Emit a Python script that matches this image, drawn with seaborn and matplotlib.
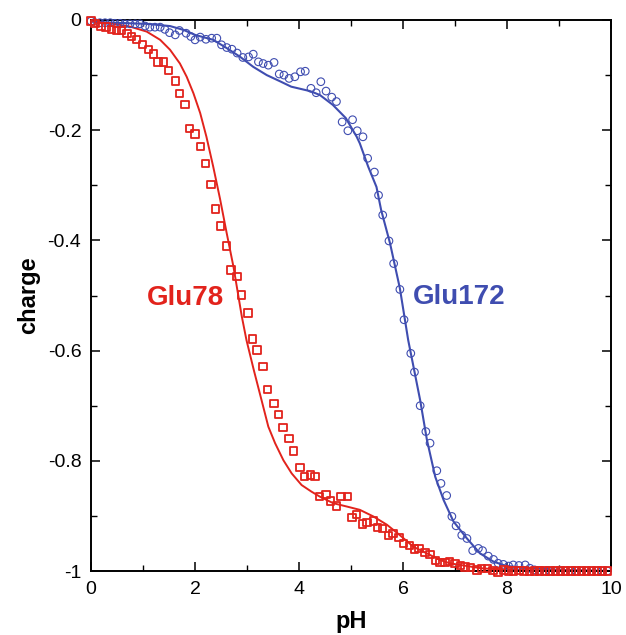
import matplotlib
matplotlib.use("Agg")
import matplotlib.pyplot as plt
import seaborn as sns
import pandas as pd
from matplotlib.ticker import MultipleLocator, FixedLocator

# ---------------- data ----------------
glu78_ph = [0.00, 0.08, 0.19, 0.29, 0.40, 0.49, 0.59, 0.69, 0.78, 0.88, 0.99,
            1.10, 1.20, 1.29, 1.40, 1.49, 1.62, 1.70, 1.81, 1.89, 2.00, 2.11,
            2.20, 2.31, 2.40, 2.49, 2.61, 2.69, 2.81, 2.90, 3.02, 3.11, 3.19,
            3.31, 3.40, 3.52, 3.61, 3.69, 3.81, 3.90, 4.02, 4.10, 4.22, 4.31,
            4.40, 4.52, 4.60, 4.72, 4.81, 4.93, 5.02, 5.11, 5.22, 5.31, 5.43,
            5.51, 5.60, 5.72, 5.81, 5.92, 6.01, 6.12, 6.22, 6.31, 6.42, 6.52,
            6.62, 6.71, 6.81, 6.90, 7.00, 7.10, 7.19, 7.30, 7.42, 7.51, 7.62,
            7.73, 7.83, 7.94, 8.03, 8.13, 8.23, 8.33, 8.43, 8.53, 8.63, 8.73,
            8.83, 8.93, 9.03, 9.13, 9.23, 9.33, 9.43, 9.53, 9.63, 9.73, 9.83,
            9.93]
glu78_q = [-0.002, -0.006, -0.012, -0.013, -0.017, -0.019, -0.019, -0.025,
           -0.030, -0.035, -0.045, -0.053, -0.062, -0.076, -0.076, -0.092,
           -0.111, -0.133, -0.153, -0.197, -0.207, -0.230, -0.261, -0.299,
           -0.343, -0.374, -0.410, -0.454, -0.466, -0.499, -0.532, -0.579,
           -0.599, -0.629, -0.671, -0.696, -0.716, -0.740, -0.760, -0.782,
           -0.812, -0.829, -0.826, -0.829, -0.865, -0.861, -0.873, -0.882,
           -0.865, -0.865, -0.903, -0.897, -0.915, -0.912, -0.909, -0.921,
           -0.923, -0.935, -0.932, -0.939, -0.950, -0.954, -0.960, -0.959,
           -0.966, -0.970, -0.981, -0.984, -0.985, -0.983, -0.986, -0.990,
           -0.993, -0.994, -0.998, -0.995, -0.995, -0.999, -1.002, -0.998,
           -1.000, -1.000, -0.999, -1.000, -1.001, -1.000, -1.000, -1.000,
           -1.000, -1.000, -1.000, -1.000, -1.000, -1.000, -1.000, -1.000,
           -1.000, -1.000, -1.000, -1.000]

glu172_ph = [0.00, 0.08, 0.17, 0.27, 0.37, 0.46, 0.56, 0.65, 0.75, 0.85, 0.94,
             1.04, 1.13, 1.23, 1.33, 1.42, 1.51, 1.62, 1.70, 1.83, 1.92, 2.00,
             2.10, 2.21, 2.32, 2.42, 2.51, 2.61, 2.71, 2.81, 2.92, 3.03, 3.12,
             3.22, 3.31, 3.41, 3.52, 3.62, 3.71, 3.81, 3.92, 4.03, 4.12, 4.23,
             4.33, 4.42, 4.52, 4.63, 4.72, 4.83, 4.94, 5.03, 5.12, 5.23, 5.32,
             5.45, 5.53, 5.61, 5.73, 5.82, 5.94, 6.02, 6.15, 6.22, 6.33, 6.44,
             6.52, 6.65, 6.73, 6.84, 6.94, 7.02, 7.13, 7.23, 7.34, 7.45, 7.53,
             7.64, 7.74, 7.83, 7.93, 8.03, 8.12, 8.23, 8.35, 8.44, 8.53, 8.63,
             8.73, 8.83, 8.93, 9.03, 9.13, 9.23, 9.33, 9.43, 9.53, 9.63, 9.73,
             9.83, 9.93]
glu172_q = [-0.002, -0.005, -0.005, -0.005, -0.005, -0.006, -0.006, -0.007,
            -0.007, -0.007, -0.007, -0.011, -0.013, -0.013, -0.013, -0.017,
            -0.023, -0.027, -0.019, -0.024, -0.030, -0.036, -0.031, -0.035,
            -0.033, -0.033, -0.045, -0.050, -0.053, -0.060, -0.068, -0.067,
            -0.062, -0.076, -0.079, -0.082, -0.077, -0.098, -0.100, -0.106,
            -0.103, -0.094, -0.093, -0.124, -0.132, -0.112, -0.129, -0.140,
            -0.148, -0.185, -0.201, -0.181, -0.201, -0.212, -0.251, -0.276,
            -0.318, -0.354, -0.401, -0.442, -0.489, -0.544, -0.605, -0.639,
            -0.700, -0.747, -0.768, -0.818, -0.841, -0.863, -0.901, -0.918,
            -0.935, -0.941, -0.963, -0.959, -0.963, -0.973, -0.979, -0.986,
            -0.988, -0.991, -0.989, -0.990, -0.989, -0.995, -0.998, -0.999,
            -1.000, -1.000, -1.000, -1.000, -1.000, -1.000, -1.000, -1.000,
            -1.000, -1.000, -1.000, -1.000, -1.000]

fit78_ph = [0.00, 0.43, 0.75, 1.07, 1.33, 1.52, 1.71, 1.84, 1.97, 2.10, 2.22,
            2.35, 2.48, 2.61, 2.74, 2.90, 2.99, 3.13, 3.28, 3.41, 3.54, 3.70,
            3.86, 4.05, 4.24, 4.40, 4.66, 4.92, 5.17, 5.43, 5.69, 5.94, 6.20,
            6.46, 6.71, 6.90, 7.50, 8.00, 10.00]
fit78_q = [-0.002, -0.007, -0.012, -0.021, -0.036, -0.054, -0.079, -0.103,
           -0.133, -0.169, -0.212, -0.266, -0.324, -0.387, -0.448, -0.538,
           -0.581, -0.635, -0.690, -0.738, -0.768, -0.799, -0.823, -0.844,
           -0.856, -0.865, -0.877, -0.883, -0.889, -0.901, -0.916, -0.935,
           -0.956, -0.968, -0.980, -0.986, -0.995, -0.998, -1.000]

fit172_ph = [0.00, 0.43, 1.07, 1.52, 1.78, 2.00, 2.35, 2.61, 2.87, 3.12, 3.38,
             3.63, 3.85, 4.21, 4.40, 4.65, 4.90, 5.11, 5.17, 5.33, 5.49, 5.58,
             5.75, 5.94, 6.10, 6.33, 6.46, 6.62, 6.78, 6.97, 7.23, 7.48, 7.74,
             7.99, 8.51, 9.00, 10.00]
fit172_q = [-0.003, -0.005, -0.007, -0.011, -0.018, -0.027, -0.036, -0.051,
            -0.067, -0.085, -0.100, -0.111, -0.121, -0.129, -0.136, -0.154,
            -0.178, -0.212, -0.224, -0.266, -0.303, -0.345, -0.405, -0.487,
            -0.581, -0.690, -0.762, -0.829, -0.871, -0.910, -0.941, -0.968,
            -0.983, -0.991, -0.995, -0.998, -1.000]

x_ticks = [0, 2, 4, 6, 8, 10]
x_tick_labels = ["0", "2", "4", "6", "8", "10"]
y_ticks = [-1.0, -0.8, -0.6, -0.4, -0.2, 0.0]
y_tick_labels = ["-1", "-0.8", "-0.6", "-0.4", "-0.2", "0"]

RED = "#e2231c"
BLUE = "#3f4db0"

# ---------------- plot ----------------
sns.set_theme(style="ticks")
plt.rcParams["font.family"] = ["Liberation Sans", "DejaVu Sans"]
plt.rcParams["text.color"] = "black"
plt.rcParams["axes.labelcolor"] = "black"

fig = plt.figure(figsize=(6.26, 6.35), dpi=100)
ax = fig.add_axes([91 / 626, 1 - 571 / 635, 520 / 626, 551 / 635])

pts78 = pd.DataFrame({"pH": glu78_ph, "charge": glu78_q})
pts172 = pd.DataFrame({"pH": glu172_ph, "charge": glu172_q})
fit78 = pd.DataFrame({"pH": fit78_ph, "charge": fit78_q})
fit172 = pd.DataFrame({"pH": fit172_ph, "charge": fit172_q})

sns.lineplot(data=fit172, x="pH", y="charge", ax=ax, color=BLUE, lw=1.5,
             estimator=None, sort=False, zorder=2)
sns.lineplot(data=fit78, x="pH", y="charge", ax=ax, color=RED, lw=1.4,
             estimator=None, sort=False, zorder=2)
sns.scatterplot(data=pts172, x="pH", y="charge", ax=ax, marker="o", s=30,
                color=BLUE, facecolors="none", edgecolor=BLUE, linewidth=0.8,
                zorder=3, clip_on=False)
sns.scatterplot(data=pts78, x="pH", y="charge", ax=ax, marker="s", s=28,
                color=RED, facecolors="none", edgecolor=RED, linewidth=1.3,
                zorder=3, clip_on=False)

ax.text(1.81, -0.505, "Glu78", color=RED, fontsize=20, fontweight="bold",
        ha="center", va="center")
ax.text(7.08, -0.503, "Glu172", color=BLUE, fontsize=20, fontweight="bold",
        ha="center", va="center")

ax.set_xlim(0, 10)
ax.set_ylim(-1, 0)
ax.xaxis.set_major_locator(FixedLocator(x_ticks))
ax.set_xticklabels(x_tick_labels)
ax.yaxis.set_major_locator(FixedLocator(y_ticks))
ax.set_yticklabels(y_tick_labels)
ax.xaxis.set_minor_locator(MultipleLocator(1))
ax.yaxis.set_minor_locator(MultipleLocator(0.1))

ax.tick_params(which="both", direction="in", top=True, right=True,
               colors="black", labelcolor="black", labelsize=14)
ax.tick_params(which="major", length=6.5, width=1.1, pad=7)
ax.tick_params(which="minor", length=4, width=1.0)
for sp in ax.spines.values():
    sp.set_linewidth(1.4)
    sp.set_color("black")

ax.set_xlabel("pH", fontsize=17, fontweight="bold", labelpad=9, color="black")
ax.set_ylabel("charge", fontsize=17, fontweight="bold", labelpad=5,
              color="black")

fig.savefig("out.png", dpi=100)
